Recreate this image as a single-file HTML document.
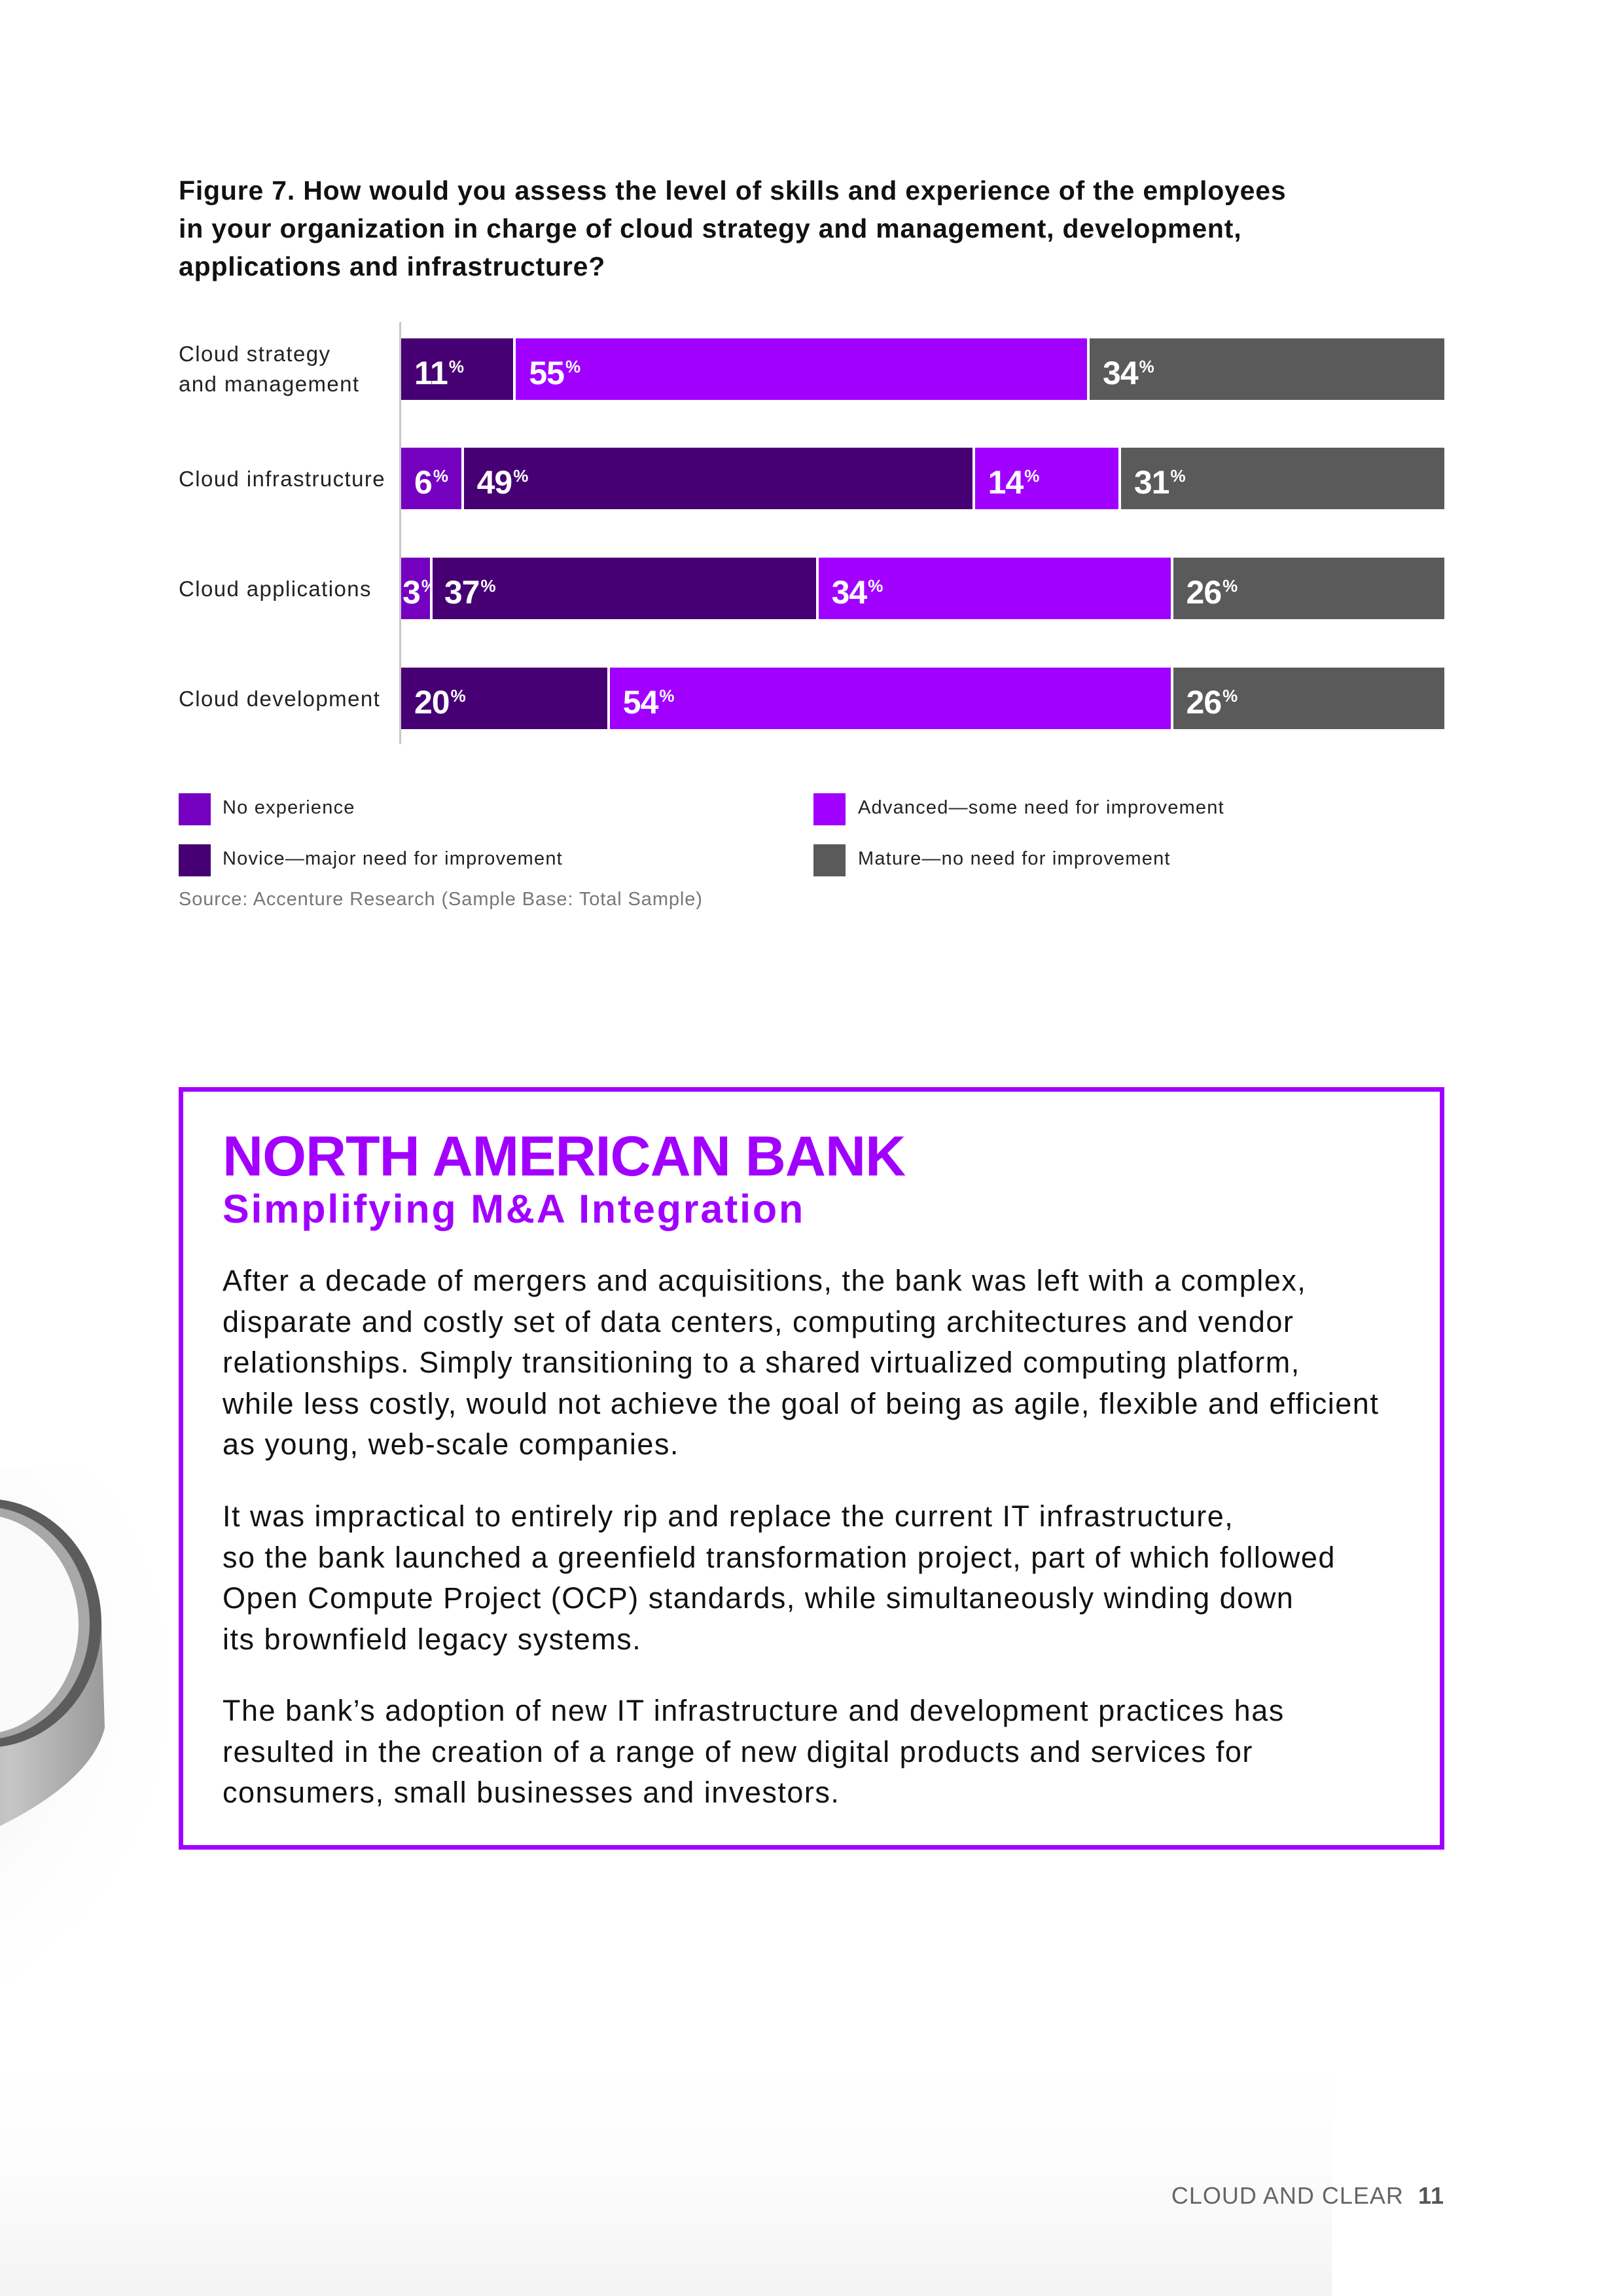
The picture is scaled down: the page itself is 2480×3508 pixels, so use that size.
<!DOCTYPE html>
<html><head><meta charset="utf-8"><style>
*{margin:0;padding:0;box-sizing:border-box}
body{width:2480px;height:3508px;position:relative;background:#fff;font-family:"Liberation Sans",sans-serif;overflow:hidden;color:#111}
.abs{position:absolute}
.title{left:273px;top:262px;font-size:41px;font-weight:bold;line-height:58px;width:2000px;letter-spacing:0.8px}
.lab{position:absolute;left:273px;font-size:33px;line-height:46px;color:#222;letter-spacing:1.4px}
.axis{left:610px;top:492px;width:3px;height:645px;background:#c8c8c8}
.bar{position:absolute;left:613px;width:1594px;height:94px;display:flex}
.seg{height:100%;border-right:4px solid #fff;color:#fff;font-weight:bold;font-size:50px;line-height:86px;padding-left:20px;white-space:nowrap;overflow:visible;letter-spacing:-1px}
.seg:last-child{border-right:none}
.seg sup{font-size:26px;vertical-align:18px;margin-left:2px}
.ne{background:#7500c0}.nv{background:#460073}.ad{background:#a100ff}.ma{background:#5a5a5a}
.sq{position:absolute;width:49px;height:49px}
.lt{position:absolute;font-size:29px;color:#222;letter-spacing:1.2px}
.box{left:273px;top:1661px;width:1934px;height:1165px;border:7px solid #a100ff}
.h1{left:340px;top:1718px;font-size:86px;font-weight:bold;color:#a100ff;letter-spacing:-1px}
.h2{left:340px;top:1812px;font-size:61px;font-weight:bold;color:#a100ff;letter-spacing:2.8px}
.body{left:340px;width:1900px;font-size:45px;line-height:62.6px;color:#111;letter-spacing:1.5px}
</style></head><body>
<svg class="abs" style="left:0;top:2200px" width="2100" height="1308">
<defs><radialGradient id="sh" cx="0.1" cy="0.4" r="0.7"><stop offset="0" stop-color="#dcdcdc"/><stop offset="1" stop-color="#fff" stop-opacity="0"/></radialGradient>
<linearGradient id="bg" x1="0" y1="0" x2="0" y2="1"><stop offset="0" stop-color="#fff" stop-opacity="0"/><stop offset="1" stop-color="#f3f3f3"/></linearGradient>
<linearGradient id="side" x1="0" y1="0" x2="1" y2="0"><stop offset="0" stop-color="#8a8a8a"/><stop offset="0.6" stop-color="#c6c6c6"/><stop offset="1" stop-color="#9a9a9a"/></linearGradient></defs>
<rect x="0" y="900" width="2035" height="408" fill="url(#bg)"/>
<ellipse cx="60" cy="460" rx="420" ry="420" fill="url(#sh)"/>
<path d="M-200,280 L155,280 L160,440 Q140,520 0,590 L-200,600 Z" fill="url(#side)"/>
<ellipse cx="-20" cy="280" rx="175" ry="190" fill="#5c5c5c"/>
<ellipse cx="-25" cy="280" rx="162" ry="178" fill="#a8a8a8"/>
<ellipse cx="-30" cy="282" rx="150" ry="168" fill="#fafafa"/>
</svg>
<div class="abs title">Figure 7. How would you assess the level of skills and experience of the employees<br>in your organization in charge of cloud strategy and management, development,<br>applications and infrastructure?</div>
<div class="abs axis"></div>
<div class="lab" style="top:518px">Cloud strategy<br>and management</div>
<div class="lab" style="top:709px">Cloud infrastructure</div>
<div class="lab" style="top:877px">Cloud applications</div>
<div class="lab" style="top:1045px">Cloud development</div>
<div class="bar" style="top:517px"><div class="seg nv" style="width:11%">11<sup>%</sup></div><div class="seg ad" style="width:55%">55<sup>%</sup></div><div class="seg ma" style="width:34%">34<sup>%</sup></div></div>
<div class="bar" style="top:684px"><div class="seg ne" style="width:6%">6<sup>%</sup></div><div class="seg nv" style="width:49%">49<sup>%</sup></div><div class="seg ad" style="width:14%">14<sup>%</sup></div><div class="seg ma" style="width:31%">31<sup>%</sup></div></div>
<div class="bar" style="top:852px"><div class="seg ne" style="width:3%;padding-left:2px">3<sup>%</sup></div><div class="seg nv" style="width:37%;padding-left:18px">37<sup>%</sup></div><div class="seg ad" style="width:34%">34<sup>%</sup></div><div class="seg ma" style="width:26%">26<sup>%</sup></div></div>
<div class="bar" style="top:1020px"><div class="seg nv" style="width:20%">20<sup>%</sup></div><div class="seg ad" style="width:54%">54<sup>%</sup></div><div class="seg ma" style="width:26%">26<sup>%</sup></div></div>
<div class="sq ne" style="left:273px;top:1212px"></div><div class="lt" style="left:340px;top:1218px">No experience</div>
<div class="sq nv" style="left:273px;top:1290px"></div><div class="lt" style="left:340px;top:1296px">Novice—major need for improvement</div>
<div class="sq ad" style="left:1243px;top:1212px"></div><div class="lt" style="left:1311px;top:1218px">Advanced—some need for improvement</div>
<div class="sq ma" style="left:1243px;top:1290px"></div><div class="lt" style="left:1311px;top:1296px">Mature—no need for improvement</div>
<div class="lt" style="left:273px;top:1358px;color:#777;letter-spacing:0.9px">Source: Accenture Research (Sample Base: Total Sample)</div>
<div class="abs box"></div>
<div class="abs h1">NORTH AMERICAN BANK</div>
<div class="abs h2">Simplifying M&amp;A Integration</div>
<div class="abs body" style="top:1926px">After a decade of mergers and acquisitions, the bank was left with a complex,<br>disparate and costly set of data centers, computing architectures and vendor<br>relationships. Simply transitioning to a shared virtualized computing platform,<br>while less costly, would not achieve the goal of being as agile, flexible and efficient<br>as young, web-scale companies.</div>
<div class="abs body" style="top:2286px">It was impractical to entirely rip and replace the current IT infrastructure,<br>so the bank launched a greenfield transformation project, part of which followed<br>Open Compute Project (OCP) standards, while simultaneously winding down<br>its brownfield legacy systems.</div>
<div class="abs body" style="top:2583px">The bank’s adoption of new IT infrastructure and development practices has<br>resulted in the creation of a range of new digital products and services for<br>consumers, small businesses and investors.</div>
<div class="abs" style="right:273px;top:3334px;font-size:36px;color:#666;letter-spacing:1px">CLOUD AND CLEAR&nbsp;&nbsp;<b style="color:#555">11</b></div>
</body></html>
